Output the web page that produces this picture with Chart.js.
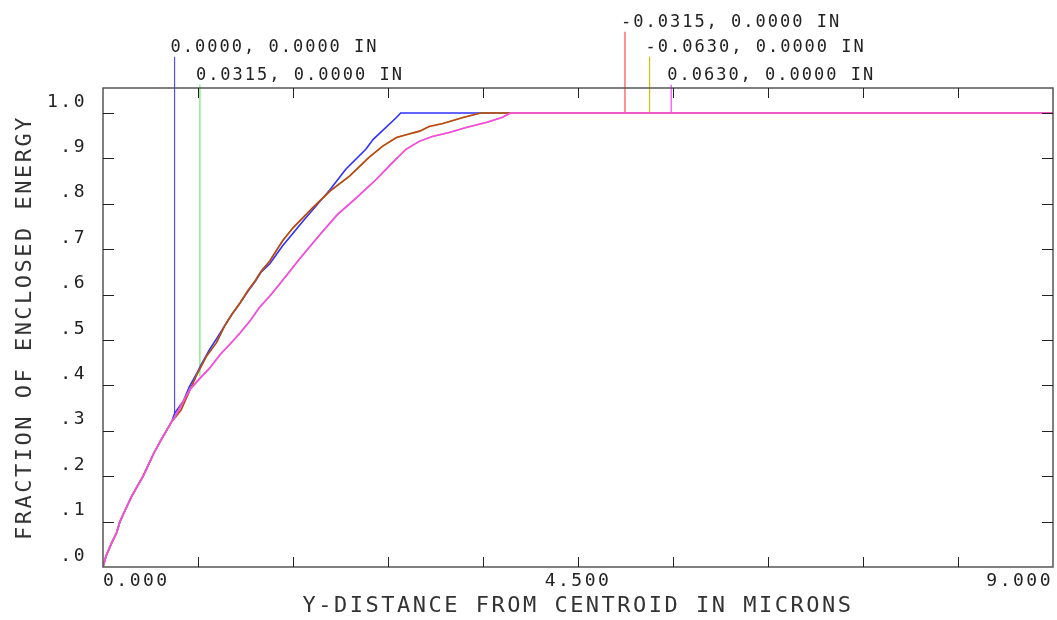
<!DOCTYPE html>
<html>
<head>
<meta charset="utf-8">
<script src="https://cdn.jsdelivr.net/npm/chart.js@4"></script>
<style>
  body { margin: 0; background: #fff; }
  #c { display: block; }
</style>
</head>
<body>
<canvas id="c" width="1057" height="620"></canvas>
<script>
// Valors llegits del gràfic (micres, fracció)
const blueX = [0, 0.03, 0.08, 0.13, 0.16, 0.21, 0.27, 0.33, 0.38, 0.43, 0.48, 0.55, 0.60, 0.65, 0.68, 0.76, 0.82, 0.89, 0.93, 1.01, 1.09, 1.17, 1.22, 1.30, 1.37, 1.44, 1.50, 1.58, 1.70, 1.91, 2.15, 2.30, 2.49, 2.56, 2.78, 2.82, 9.0];
const blueY = [0, 0.025, 0.052, 0.076, 0.10, 0.125, 0.155, 0.180, 0.20, 0.225, 0.25, 0.28, 0.30, 0.32, 0.339, 0.365, 0.398, 0.427, 0.446, 0.479, 0.508, 0.538, 0.556, 0.582, 0.606, 0.628, 0.650, 0.668, 0.707, 0.766, 0.831, 0.876, 0.920, 0.942, 0.990, 1.0, 1.0];

const redX = [0, 0.03, 0.08, 0.13, 0.16, 0.21, 0.27, 0.33, 0.38, 0.43, 0.48, 0.55, 0.60, 0.65, 0.68, 0.74, 0.81, 0.89, 0.98, 1.075, 1.15, 1.22, 1.30, 1.37, 1.44, 1.50, 1.58, 1.64, 1.70, 1.80, 1.99, 2.15, 2.335, 2.52, 2.65, 2.78, 2.89, 3.0, 3.09, 3.22, 3.41, 3.56, 3.58, 9.0];
const redY = [0, 0.025, 0.052, 0.076, 0.10, 0.125, 0.155, 0.180, 0.20, 0.225, 0.25, 0.28, 0.30, 0.32, 0.328, 0.346, 0.383, 0.424, 0.464, 0.494, 0.530, 0.556, 0.582, 0.608, 0.630, 0.652, 0.674, 0.696, 0.718, 0.747, 0.792, 0.828, 0.861, 0.902, 0.927, 0.946, 0.953, 0.960, 0.970, 0.977, 0.990, 0.999, 1.0, 1.0];

// el camp 0.0315 queda sota el -0.0315
const greenX = redX.slice();
const greenY = redY.slice();

const magentaX = [0, 0.03, 0.08, 0.13, 0.16, 0.21, 0.27, 0.33, 0.38, 0.43, 0.48, 0.55, 0.60, 0.65, 0.68, 0.82, 0.92, 1.01, 1.11, 1.20, 1.30, 1.39, 1.48, 1.58, 1.67, 1.86, 2.07, 2.22, 2.40, 2.59, 2.74, 2.87, 3.0, 3.12, 3.28, 3.44, 3.63, 3.78, 3.86, 9.0];
const magentaY = [0, 0.025, 0.052, 0.076, 0.10, 0.125, 0.155, 0.180, 0.20, 0.225, 0.25, 0.28, 0.30, 0.32, 0.33, 0.390, 0.416, 0.438, 0.468, 0.490, 0.516, 0.541, 0.571, 0.597, 0.622, 0.678, 0.736, 0.776, 0.813, 0.854, 0.890, 0.920, 0.938, 0.948, 0.957, 0.968, 0.979, 0.990, 1.0, 1.0];

// el camp -0.0630 queda sota el 0.0630
const yellowX = magentaX.slice();
const yellowY = magentaY.slice();

// Etiquetes dels camps i les seves línies guia
const fieldLabels = ['0.0000, 0.0000 IN', '0.0315, 0.0000 IN', '-0.0315, 0.0000 IN', '-0.0630, 0.0000 IN', '0.0630, 0.0000 IN'];
const fieldColors = ['#5050ff', '#6ee86e', '#ff4a4a', '#c8c800', '#ff40ff'];
const leaderX = [0.678, 0.918, 4.945, 5.178, 5.383];
const leaderBottom = [0.339, 0.42, 1.0, 1.0, 1.0];
const leaderTop = [1.124, 1.062, 1.179, 1.124, 1.062];

const xTickLabels = ['0.000', '4.500', '9.000'];

const toPoints = (xs, ys) => xs.map((v, i) => ({ x: v, y: ys[i] }));

const curve = (data, color, order) => ({
    data: data,
    borderColor: color,
    borderWidth: 1.6,
    pointRadius: 0,
    fill: false,
    tension: 0,
    order: order
});

const leaders = leaderX.map((lx, i) => ({
    data: [{ x: lx, y: leaderBottom[i] }, { x: lx, y: leaderTop[i] }],
    borderColor: fieldColors[i],
    borderWidth: 1.2,
    pointRadius: 0,
    clip: false,
    order: 10
}));

const marc = {
    id: 'marc',
    beforeUpdate(chart) { chart.ctx.letterSpacing = '2.5px'; },
    beforeDraw(chart) { chart.ctx.letterSpacing = '2.5px'; },
    afterDraw(chart) {
        const { ctx, chartArea: a, scales: { x, y } } = chart;
        ctx.save();
        ctx.strokeStyle = '#555';
        ctx.lineWidth = 1.5;
        ctx.strokeRect(a.left, a.top, a.right - a.left, a.bottom - a.top);

        // marques interiors
        ctx.strokeStyle = '#222';
        ctx.lineWidth = 1;
        ctx.beginPath();
        x.ticks.forEach(t => {
            const px = Math.round(x.getPixelForValue(t.value)) + 0.5;
            if (px < a.left + 2 || px > a.right - 2) return;
            ctx.moveTo(px, a.bottom); ctx.lineTo(px, a.bottom - 10);
            ctx.moveTo(px, a.top); ctx.lineTo(px, a.top + 10);
        });
        y.ticks.forEach(t => {
            const py = Math.round(y.getPixelForValue(t.value)) + 0.5;
            if (py > a.bottom - 2) return;
            ctx.moveTo(a.left, py); ctx.lineTo(a.left + 11, py);
            ctx.moveTo(a.right, py); ctx.lineTo(a.right - 11, py);
        });
        ctx.stroke();

        // textos dels camps
        ctx.font = '17px "DejaVu Sans Mono"';
        ctx.letterSpacing = '2px';
        ctx.fillStyle = '#222';
        ctx.textBaseline = 'alphabetic';
        ctx.textAlign = 'left';
        fieldLabels.forEach((s, i) => {
            ctx.fillText(s, x.getPixelForValue(leaderX[i]) - 4, y.getPixelForValue(leaderTop[i]) - 5);
        });
        ctx.restore();
    }
};

const ctx = document.getElementById('c').getContext('2d');
new Chart(ctx, {
    type: 'line',
    data: {
        datasets: [
            curve(toPoints(magentaX, magentaY), '#ff40ff', 1),
            curve(toPoints(yellowX, yellowY), '#c8c800', 2),
            curve(toPoints(redX, redY), 'rgba(255, 0, 0, 0.72)', 3),
            curve(toPoints(greenX, greenY), '#40e040', 4),
            curve(toPoints(blueX, blueY), '#3030ff', 5),
            ...leaders
        ]
    },
    options: {
        responsive: false,
        animation: false,
        devicePixelRatio: 1,
        layout: { padding: { top: 88, left: 0, right: 2, bottom: 0 } },
        scales: {
            x: {
                type: 'linear',
                min: 0,
                max: 9,
                afterFit(s) { s.height = 53; },
                grid: { display: false, drawTicks: false },
                border: { display: false },
                ticks: {
                    stepSize: 0.9,
                    align: 'inner',
                    padding: 4,
                    maxRotation: 0,
                    autoSkip: false,
                    color: '#222',
                    font: { family: 'DejaVu Sans Mono', size: 18 },
                    callback: (v, i) => (i % 5 === 0 ? xTickLabels[i / 5] : '')
                },
                title: {
                    display: true,
                    text: 'Y-DISTANCE FROM CENTROID IN MICRONS',
                    color: '#333',
                    font: { family: 'DejaVu Sans Mono', size: 22 },
                    padding: { top: 0, bottom: 1 }
                }
            },
            y: {
                min: 0,
                max: 1.055,
                afterFit(s) { s.width = 103; },
                grid: { display: false, drawTicks: false },
                border: { display: false },
                ticks: {
                    stepSize: 0.1,
                    includeBounds: false,
                    padding: 16,
                    labelOffset: -11,
                    color: '#222',
                    font: { family: 'DejaVu Sans Mono', size: 18 },
                    callback: v => v.toFixed(1).replace(/^0/, '')
                },
                title: {
                    display: true,
                    text: 'FRACTION OF ENCLOSED ENERGY',
                    color: '#333',
                    font: { family: 'DejaVu Sans Mono', size: 22 },
                    padding: { top: 12, bottom: 0 }
                }
            }
        },
        plugins: {
            legend: { display: false },
            tooltip: { enabled: false }
        }
    },
    plugins: [marc]
});
</script>
</body>
</html>
